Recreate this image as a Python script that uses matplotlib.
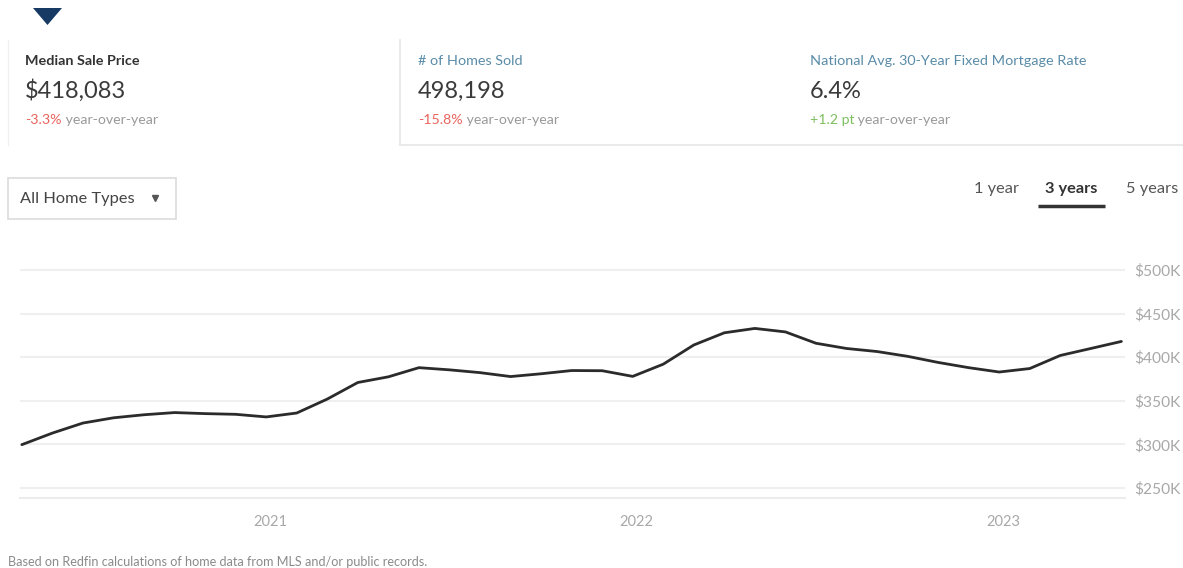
import numpy as np
import matplotlib
matplotlib.use("Agg")
import matplotlib.pyplot as plt
from matplotlib.patches import Polygon, Rectangle
from matplotlib.ticker import FuncFormatter

plt.rcParams['font.family'] = ['Lato', 'DejaVu Sans']

# ---- data ----
first_month = 2020.323          # approx. late April / May 2020 (decimal year)
median_price_k = [299.7, 313, 324.5, 330.5, 334, 336.5, 335.3, 334.5, 331.5, 336,
                  352, 371, 377.5, 388, 385.5, 382.3, 377.8, 381, 384.7, 384.5,
                  378, 392, 414, 428, 433, 429, 416, 410, 406.5, 401,
                  394, 388, 383, 387, 402, 410, 418.083]
year_ticks = [2021, 2022, 2023]
year_labels = ["2021", "2022", "2023"]
price_ticks_k = [250, 300, 350, 400, 450, 500]

cards = [
    ("Median Sale Price", "$418,083", "-3.3%", "#e8635c"),
    ("# of Homes Sold", "498,198", "-15.8%", "#e8635c"),
    ("National Avg. 30-Year Fixed Mortgage Rate", "6.4%", "+1.2 pt", "#7dbf5f"),
]
tabs = ["1 year", "3 years", "5 years"]

W, H = 1183, 568
fig = plt.figure(figsize=(W / 100, H / 100), dpi=100)

# overlay axes in pixel coordinates
ov = fig.add_axes([0, 0, 1, 1], zorder=0)
ov.set_xlim(0, W)
ov.set_ylim(H, 0)
ov.axis('off')

# navy triangle
ov.add_patch(Polygon([[33, 8], [62, 8], [47.5, 25]], closed=True, color="#163a64", lw=0))

# card borders
ov.plot([8, 8], [40, 145], color="#f0f0f0", lw=1)
ov.plot([400, 400], [40, 145], color="#e6e6e6", lw=1.2)
ov.plot([400, W], [145, 145], color="#e6e6e6", lw=1.2)

card_x = [25, 418, 810]
for (title, value, change, ccol), cx in zip(cards, card_x):
    bold = title == "Median Sale Price"
    ov.text(cx, 61, title, fontsize=10.4, fontweight='bold' if bold else 'normal',
            color="#333333" if bold else "#5a8ca8", va='center', ha='left')
    ov.text(cx, 91, value, fontsize=17, color="#3a3a3a", va='center', ha='left')
    t1 = ov.text(cx, 120, change, fontsize=10.2, color=ccol, va='center', ha='left')
    ov.annotate(" year-over-year", xy=(1, 0), xycoords=t1, xytext=(0, 0),
                textcoords='offset points', fontsize=10.2, color="#9a9a9a",
                ha='left', va='bottom')

# dropdown
ov.add_patch(Rectangle((8, 178), 168, 41, fill=False, edgecolor="#dcdcdc", lw=1.2))
ov.text(20, 199, "All Home Types", fontsize=11.8, color="#444444", va='center', ha='left')
ov.plot([155], [198], marker='v', color="#555555", markersize=4.5, lw=0)

# tabs
tab_x = [974, 1045, 1126]
for t, tx in zip(tabs, tab_x):
    ov.text(tx, 189, t, fontsize=11.8, color="#333333" if t == "3 years" else "#555555",
            fontweight='bold' if t == "3 years" else 'normal', va='center', ha='left')
ov.plot([1038, 1105], [206, 206], color="#333333", lw=2.5, solid_capstyle='butt')

# footnote
ov.text(8, 562, "Based on Redfin calculations of home data from MLS and/or public records.",
        fontsize=9.1, color="#8a8a8a", va='center', ha='left')

# ---- chart ----
px_per_year = 366.5
x_left_px, x_right_px = 20, 1125
xmin = 2021 - (270 - x_left_px) / px_per_year
xmax = 2021 + (x_right_px - 270) / px_per_year
px_per_50k = 43.6
y_bottom_px = 498
ymin = 250 - (y_bottom_px - 488) / px_per_50k * 50
ymax = 506
ax_h_px = (ymax - ymin) / 50 * px_per_50k

ax = fig.add_axes([x_left_px / W, 1 - y_bottom_px / H,
                   (x_right_px - x_left_px) / W, ax_h_px / H], zorder=1)
ax.patch.set_alpha(0)

x = first_month + np.arange(len(median_price_k)) / 12.0
y = np.array(median_price_k) * 1000
ax.plot(x, y, color="#2b2b2b", lw=2.0, solid_joinstyle='round', solid_capstyle='round', zorder=3)

ax.set_xlim(xmin, xmax)
ax.set_ylim(ymin * 1000, ymax * 1000)
ax.set_yticks([v * 1000 for v in price_ticks_k])
ax.yaxis.set_major_formatter(FuncFormatter(lambda v, p: f"${int(round(v / 1000))}K"))
ax.yaxis.tick_right()
ax.set_xticks(year_ticks)
ax.set_xticklabels(year_labels)
ax.grid(axis='y', color="#efefef", lw=1.5)
ax.set_axisbelow(True)
ax.tick_params(axis='both', length=0, labelsize=10.5, labelcolor="#a8a8a8")
ax.tick_params(axis='y', pad=7, labelsize=11.2)
ax.tick_params(axis='x', pad=12)
for s in ['top', 'left', 'right']:
    ax.spines[s].set_visible(False)
ax.spines['bottom'].set_color("#ececec")
ax.spines['bottom'].set_linewidth(1.5)

fig.savefig("out.png", dpi=100)
